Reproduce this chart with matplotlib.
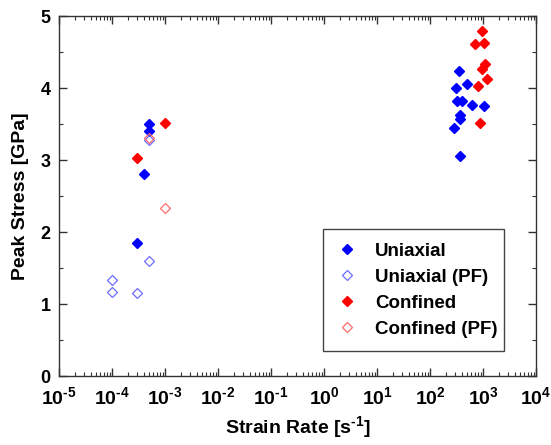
# Peak stress vs strain rate, log x axis

import matplotlib.pyplot as plt
from matplotlib.ticker import FuncFormatter, LogLocator, MultipleLocator, NullFormatter
import numpy as np

plt.rcParams["font.family"] = ["Liberation Sans", "DejaVu Sans"]
plt.rcParams["font.weight"] = "bold"
plt.rcParams["mathtext.fontset"] = "custom"
plt.rcParams["mathtext.rm"] = "Liberation Sans:bold"
plt.rcParams["mathtext.it"] = "Liberation Sans:bold"
plt.rcParams["mathtext.bf"] = "Liberation Sans:bold"

# strain rate [1/s], peak stress [GPa]
uni_rate = [5e-4, 5e-4, 4e-4, 3e-4,
            352, 303, 500, 327, 405, 620, 1025, 370, 373, 283, 363]
uni_stress = [3.50, 3.40, 2.80, 1.85,
              4.24, 4.00, 4.05, 3.82, 3.82, 3.76, 3.75, 3.62, 3.57, 3.45, 3.05]

uni_pf_rate = [5e-4, 5e-4, 1e-4, 1e-4, 3e-4]
uni_pf_stress = [3.28, 1.60, 1.33, 1.17, 1.16]

conf_rate = [1e-3, 3e-4,
             944, 707, 1047, 1100, 955, 1200, 815, 890]
conf_stress = [3.51, 3.03,
               4.79, 4.61, 4.63, 4.33, 4.27, 4.13, 4.03, 3.51]

conf_pf_rate = [5e-4, 1e-3]
conf_pf_stress = [3.31, 2.33]


def decade_label(v, pos):
    # hyphen instead of the math minus, like the original figure
    return r"10$^{\text{%d}}$" % int(round(np.log10(v)))


fig = plt.figure(figsize=(5.51, 4.45), dpi=100)
ax = fig.add_axes([0.107, 0.155, 0.866, 0.809])

ms = 5.3
ax.plot(uni_rate, uni_stress, "D", color="#0000ff", ms=ms, mec="#0000ff",
        label="Uniaxial", zorder=3)
ax.plot(uni_pf_rate, uni_pf_stress, "D", mfc="none", mec="#6b6bff", ms=ms,
        mew=0.9, label="Uniaxial (PF)", zorder=4)
ax.plot(conf_rate, conf_stress, "D", color="#ff0000", ms=ms, mec="#ff0000",
        label="Confined", zorder=3)
ax.plot(conf_pf_rate, conf_pf_stress, "D", mfc="none", mec="#ff6b6b", ms=ms,
        mew=0.9, label="Confined (PF)", zorder=4)

ax.set_xscale("log")
ax.set_xlim(1e-5, 1e4)
ax.set_ylim(0, 5)
ax.xaxis.set_major_locator(LogLocator(base=10, numticks=20))
ax.xaxis.set_major_formatter(FuncFormatter(decade_label))
ax.xaxis.set_minor_locator(LogLocator(base=10, subs=range(2, 10), numticks=20))
ax.xaxis.set_minor_formatter(NullFormatter())
ax.yaxis.set_major_locator(MultipleLocator(1))
ax.yaxis.set_minor_locator(MultipleLocator(0.5))

ax.tick_params(which="both", direction="in", top=True, right=True,
               color="#333333")
ax.tick_params(which="major", length=6, width=1)
ax.tick_params(which="minor", length=3, width=0.8)
ax.tick_params(axis="x", labelsize=14, pad=7)
ax.tick_params(axis="y", labelsize=13, pad=6)
for s in ax.spines.values():
    s.set_color("#333333")
    s.set_linewidth(1)

ax.set_xlabel(r"Strain Rate [s$^{\text{-1}}$]", fontsize=14, fontweight="bold",
              labelpad=5)
ax.set_ylabel("Peak Stress [GPa]", fontsize=14, fontweight="bold", labelpad=8)

leg = ax.legend(loc="lower left", bbox_to_anchor=(0.553, 0.069, 0.38, 0.328),
                mode="expand", borderaxespad=0, fontsize=13.5,
                handletextpad=0.9, borderpad=0.7, labelspacing=0.48,
                fancybox=False, framealpha=1, edgecolor="#444444",
                handlelength=1.2)
leg.get_frame().set_linewidth(1)

plt.savefig("out.png", dpi=100)
